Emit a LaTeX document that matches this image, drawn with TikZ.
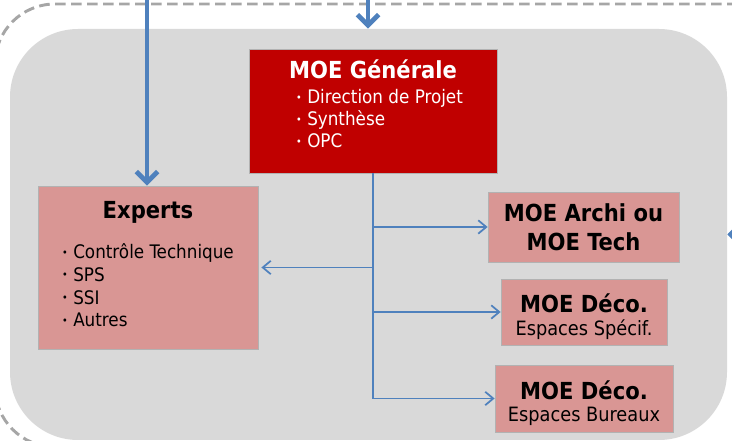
\documentclass[tikz,border=0pt]{standalone}
\usepackage{fontspec}
\setmainfont{DejaVu Sans Condensed}
\usetikzlibrary{arrows.meta}
\newlength{\px}\setlength{\px}{0.75pt}
\definecolor{rougemoe}{HTML}{C00000}
\definecolor{rosemoe}{HTML}{D99694}
\definecolor{fondgris}{HTML}{D9D9D9}
\definecolor{cadregris}{HTML}{A6A6A6}
\definecolor{bleumoe}{HTML}{4F81BD}
\newcommand{\puce}{\raisebox{0.25ex}{\fontsize{8pt}{8pt}\selectfont\textbullet}\hspace{0.3em}}
\newcommand{\titre}{\fontsize{17.6pt}{21pt}\selectfont\bfseries}
\newcommand{\liste}{\fontsize{14pt}{17pt}\selectfont}
\newcommand{\sous}{\fontsize{14.8pt}{17pt}\selectfont}
\tikzset{
  boite/.style={draw=gray!60, line width=0.6pt, fill=rosemoe, inner sep=0pt, align=center},
  grosflux/.style={draw=bleumoe, line width=3.6pt, -{Straight Barb[length=8pt,width=16pt]}},
  flux/.style={draw=bleumoe, line width=1.3pt, -{Straight Barb[length=6pt,width=10pt]}},
}
\begin{document}
\begin{tikzpicture}[x=0.75pt,y=-0.75pt]
\useasboundingbox (0,0) rectangle (732,441);
\clip (0,0) rectangle (732,441);
% cadre exterieur
\draw[cadregris, line width=2.2pt, dash pattern=on 8pt off 4pt, rounded corners=60\px] (-5,4) rectangle (800,447);
\node[fill=fondgris, rounded corners=68\px, minimum width=717\px, minimum height=411\px, inner sep=0pt] (zone) at (368.5,234.5) {};

\node[boite, fill=rougemoe, text=white] (gen) at (373,111) {%
\begin{minipage}[c][124\px][t]{248\px}
\vspace{11\px}\centering{\titre MOE Générale\par}
\vspace{3\px}
\raggedright\fontsize{14pt}{16.5pt}\selectfont\leftskip=47\px
\puce Direction de Projet\par
\puce Synthèse\par
\puce OPC\par
\end{minipage}};

\node[boite] (experts) at (148,267.5) {%
\begin{minipage}[c][163\px][t]{220\px}
\vspace{15\px}\centering{\titre Experts\par}
\vspace{18\px}
\raggedright\liste\leftskip=24\px
\puce Contrôle Technique\par
\puce SPS\par
\puce SSI\par
\puce Autres\par
\end{minipage}};

\node[boite, minimum width=191\px, minimum height=70\px, font=\titre] (archi) at (583.5,227) {MOE Archi ou\\[1pt]MOE Tech};
\node[boite, minimum width=166\px, minimum height=66\px] (deco1) at (584,312) {{\titre\rule{0pt}{21pt}MOE Déco.}\\[4.5pt]{\sous Espaces Spécif.}};
\node[boite, minimum width=178\px, minimum height=67\px] (deco2) at (584,398.5) {{\titre\rule{0pt}{21pt}MOE Déco.}\\[4.5pt]{\sous Espaces Bureaux}};

% fleches d'entree
\coordinate (in1) at (147,-2);
\coordinate (in2) at (368,-2);
\coordinate (in3) at (760,234);
\draw[grosflux] (in1) -- (in1 |- experts.north);
\draw[grosflux] (in2) -- (in2 |- zone.north);
\draw[grosflux] (in3) -- (zone.east);

% liaisons
\draw[flux] (gen.south) |- (deco2.west);
\foreach \b in {archi,deco1} {
\draw[flux] (gen.south |- \b.west) -- (\b.west);
}
\draw[flux, shorten >=3\px] (gen.south |- experts.east) -- (experts.east);
\end{tikzpicture}
\end{document}
